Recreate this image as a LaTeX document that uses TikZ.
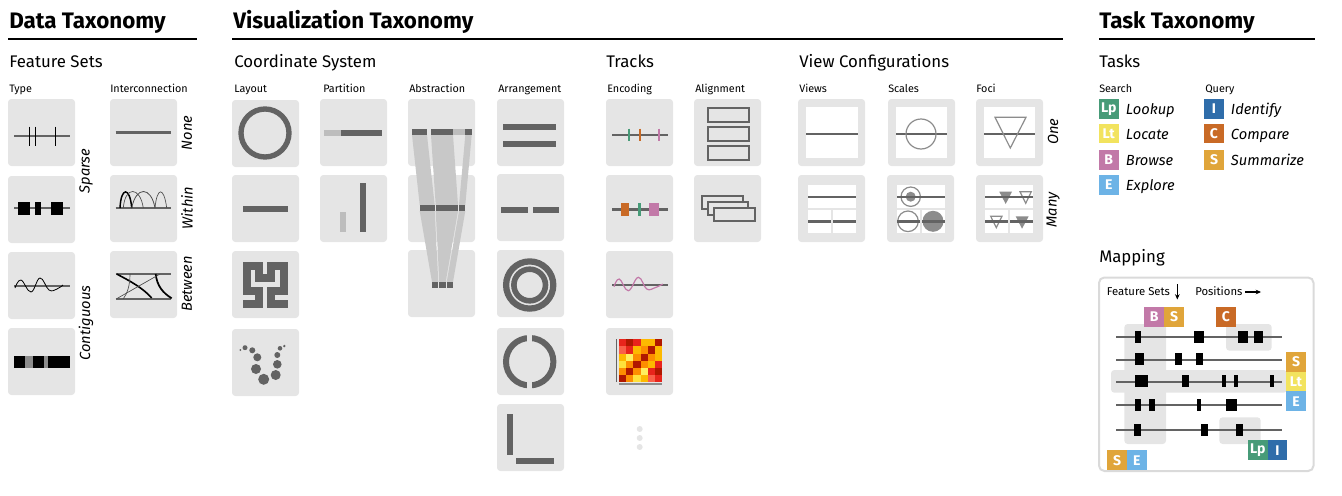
\documentclass[tikz,border=0pt]{standalone}
\usepackage{fontspec}
\setmainfont{Fira Sans}
\usetikzlibrary{arrows.meta}
\definecolor{tilegray}{HTML}{E5E5E5}
\definecolor{cdark}{HTML}{636363}
\definecolor{cmid}{HTML}{8C8C8C}
\definecolor{clite}{HTML}{BDBDBD}
\definecolor{cband}{HTML}{C8C8C8}
\definecolor{cLp}{HTML}{479B78}
\definecolor{cLt}{HTML}{F2E35E}
\definecolor{cB}{HTML}{C279A8}
\definecolor{cE}{HTML}{6DB3E6}
\definecolor{cI}{HTML}{2F6DAA}
\definecolor{cC}{HTML}{C96A26}
\definecolor{cS}{HTML}{E0A53A}
\definecolor{hR}{HTML}{E8241C}
\definecolor{hD}{HTML}{B01800}
\definecolor{hA}{HTML}{FDB900}
\definecolor{hO}{HTML}{FD8E00}
\definecolor{hY}{HTML}{FEE13C}
\definecolor{hL}{HTML}{FFEF60}
\definecolor{hS}{HTML}{F9604A}
\tikzset{
  tilebox/.style={fill=tilegray,rounded corners=2.5pt},
  trackline/.style={draw=cdark,line width=1.8pt},
  titletext/.style={anchor=base west,inner sep=0,font=\fontsize{16.8}{18}\selectfont\bfseries},
  rulebar/.style={draw=black,line width=1.5pt},
  sectiontext/.style={anchor=base west,inner sep=0,font=\fontsize{12.6}{14}\selectfont},
  collab/.style={anchor=base west,inner sep=0,font=\fontsize{8.1}{9}\selectfont},
  rotlab/.style={rotate=90,inner sep=0,font=\fontsize{11}{13}\selectfont\itshape},
  tasklab/.style={anchor=base west,inner sep=0,font=\fontsize{11}{13}\selectfont\itshape},
  tagtext/.style={inner sep=0,text=white,font=\fontsize{10.5}{11}\selectfont\bfseries},
  smalltext/.style={anchor=base west,inner sep=0,font=\fontsize{8.5}{9}\selectfont},
  outl/.style={draw=cmid,line width=.9pt},
  frameb/.style={draw=cdark,line width=1.5pt,fill=tilegray},
  mapline/.style={draw=cdark,line width=1.5pt},
}
\newcommand{\tileat}[2]{\path[tilebox] (#1,#2) rectangle ++(67,67);}
\newcommand{\barfill}[5]{\fill[#5] (#1,#2) rectangle (#3,#4);}
\newcommand{\tagbox}[7]{\fill[#6] (#2,#3) rectangle (#4,#5); \node[tagtext] (#1) at ({(#2+#4)/2},{(#3+#5)/2}) {#7};}
\newcommand{\markbar}[3]{\fill[black] (#1,#3) rectangle (#2,#3+12);}
\begin{document}
\begin{tikzpicture}[x=0.75pt,y=-0.75pt]
\useasboundingbox (0,0) rectangle (1342,496);
% ---- headers
\node[titletext] (h1) at (9,28) {Data Taxonomy};
\node[titletext] (h2) at (233,28) {Visualization Taxonomy};
\node[titletext] (h3) at (1099,28) {Task Taxonomy};
\draw[rulebar] (8,39) -- (197,39);
\draw[rulebar] (232,39) -- (1063,39);
\draw[rulebar] (1099,39) -- (1315,39);
\node[sectiontext] (s1) at (9,67) {Feature Sets};
\node[sectiontext] (s2) at (234,67) {Coordinate System};
\node[sectiontext] (s3) at (606,67) {Tracks};
\node[sectiontext] (s4) at (799,67) {View Configurations};
\node[sectiontext] (s5) at (1099,67) {Tasks};
\node[sectiontext] (s6) at (1099,262) {Mapping};
\foreach \n/\x/\t in {a/9/Type,b/110/Interconnection,c/234/Layout,d/323/Partition,e/409/Abstraction,f/498/Arrangement,g/607/Encoding,i/695/Alignment,j/799/Views,k/888/Scales,l/976/Foci,m/1099/Search,n/1205/Query}
  {\node[collab] (col\n) at (\x,92) {\t};}
% ---- tiles
\foreach \y in {99,176,252,328} {\tileat{8}{\y}}
\foreach \y in {99,175,251} {\tileat{110}{\y}}
\foreach \y in {100,175,251,329} {\tileat{232}{\y}}
\foreach \y in {99,175} {\tileat{320}{\y}}
\foreach \y in {99,175,250} {\tileat{408}{\y}}
\foreach \y in {99,174,250,328,404} {\tileat{497}{\y}}
\foreach \y in {99,175,251,328} {\tileat{606}{\y}}
\foreach \y in {99,175} {\tileat{694}{\y}}
\foreach \x in {798,888,976} {\tileat{\x}{99}}
\tileat{798}{175} \tileat{887}{175} \tileat{976}{175}
% ---- type
\draw[trackline] (14,135.7) -- (69.5,135.7);
\foreach \x in {29,35,55.5} {\draw[black,line width=.7pt] (\x,126.7) -- (\x,146);}
\draw[trackline] (14,208) -- (69.5,208);
\barfill{18}{202}{30}{215}{black} \barfill{35}{202}{41}{215}{black} \barfill{51}{202}{63}{215}{black}
\draw[trackline] (14,286) -- (69.5,286);
\draw[black,line width=.6pt] plot[smooth,tension=.7] coordinates {(15,288) (21,280) (31,292) (40,278) (49,290) (57,289) (63,285)};
\barfill{14}{356}{25}{368}{black} \barfill{25}{356}{33}{368}{cmid} \barfill{33}{356}{44}{368}{black} \barfill{44}{356}{48}{368}{cmid} \barfill{48}{356}{69.5}{368}{black}
\node[rotlab] (lsparse) at (86,171) {Sparse};
\node[rotlab] (lcontig) at (86,323) {Contiguous};
% ---- interconnection
\draw[trackline] (115.5,132.3) -- (171,132.3);
\draw[trackline] (115.5,208) -- (171,208);
\draw[black,line width=1.1pt] (120,208) .. controls (121,186.5) and (130,186.5) .. (131.7,208);
\draw[black!70,line width=.5pt] (123.3,208) .. controls (125,186) and (140,186) .. (143.3,208);
\draw[black!70,line width=.6pt] (131.7,208) .. controls (136,186) and (151,186) .. (155,208);
\draw[black!70,line width=.5pt] (155,208) .. controls (157,186.5) and (164,186.5) .. (166.7,208);
\draw[trackline] (115.5,273.7) -- (171,273.7);
\draw[trackline] (115.5,298.7) -- (171,298.7);
\draw[black,line width=1.2pt] (116.7,274) .. controls (130,281) and (143,288) .. (151.7,298);
\draw[black,line width=1.3pt] (155.7,274) .. controls (157,286) and (163,293) .. (171.7,298.3);
\draw[black!70,line width=.5pt] (116.7,298.7) -- (160,274);
\draw[black!70,line width=.5pt] (130,274) .. controls (130,286) and (127,294) .. (123.3,298.7);
\node[rotlab] (lnone) at (187,133) {None};
\node[rotlab] (lwithin) at (187,208) {Within};
\node[rotlab] (lbetween) at (187,284) {Between};
% ---- layout
\draw[cdark,line width=4pt] (265,133) circle (24);
\barfill{243.3}{205.7}{288}{211.7}{cdark}
\draw[cdark,line width=6pt] (243.3,303.7) -- (259.3,303.7) -- (259.3,291.3) -- (247.3,291.3) -- (247.3,266.3) -- (259.3,266.3) -- (259.3,278.3) -- (271.3,278.3) -- (271.3,266.3) -- (283.7,266.3) -- (283.7,291.3) -- (271.3,291.3) -- (271.3,303.7) -- (287.7,303.7);
\foreach \x/\y/\r in {240.3/350/1,245/347.7/2.5,252.3/350.3/3,257.3/357.3/4,256/369/5,263.7/379.3/5.5,275.7/375/5,277.3/364.3/4.3,277.3/355/3,280/348.3/2.3,284.3/346/1.3}
  {\fill[cdark] (\x,\y) circle (\r);}
% ---- partition
\barfill{324.3}{129.7}{341}{136}{clite} \barfill{341}{129.7}{382}{136}{cdark}
\barfill{340.3}{211.7}{346.3}{232.3}{clite} \barfill{360}{183}{366}{232.3}{cdark}
% ---- abstraction
\fill[cband] (412,135) -- (427,135) -- (434.7,205) -- (419.7,205) -- cycle;
\fill[cband] (431,135) -- (453,135) -- (458,205) -- (435.7,205) -- cycle;
\fill[cband] (465.3,135) -- (471.7,135) -- (465.3,205) -- (459,205) -- cycle;
\fill[cband] (419.7,211) -- (434.7,211) -- (438.3,282) -- (432,282) -- cycle;
\fill[cband] (435.7,211) -- (458,211) -- (445.7,282) -- (439.3,282) -- cycle;
\fill[cband] (459,211) -- (465.3,211) -- (453,282) -- (446.7,282) -- cycle;
\barfill{412}{129}{427}{135.3}{cdark} \barfill{431}{129}{453}{135.3}{cdark} \barfill{453}{129}{465.3}{135.3}{clite} \barfill{465.3}{129}{471.7}{135.3}{cdark}
\barfill{419.7}{205}{434.7}{211}{cdark} \barfill{435.7}{205}{458}{211}{cdark} \barfill{459}{205}{465.3}{211}{cdark}
\barfill{432}{282}{438.3}{288}{cdark} \barfill{439.3}{282}{445.7}{288}{cdark} \barfill{446.7}{282}{453}{288}{cdark}
% ---- arrangement
\barfill{503.3}{123.7}{556}{130}{cdark} \barfill{503.3}{141.3}{556}{147.3}{cdark}
\barfill{501}{206.7}{527.7}{212.7}{cdark} \barfill{532.7}{206.7}{559.3}{212.7}{cdark}
\draw[cdark,line width=4.7pt] (529.7,285) circle (23.6);
\draw[cdark,line width=4.2pt] (529.7,285) circle (15.8);
\draw[cdark,line width=4.5pt] (529.7,361.7) circle (23.7);
\barfill{527.3}{331}{532.3}{392}{tilegray}
\barfill{507}{413.7}{513}{455}{cdark} \barfill{516}{458}{553.7}{464}{cdark}
% ---- encoding
\draw[trackline] (612,135) -- (667.7,135);
\draw[cLp,line width=1.6pt] (629,128.7) -- (629,141);
\draw[cC,line width=1.6pt] (639.7,128.7) -- (639.7,141);
\draw[cB,line width=1.6pt] (659,128.7) -- (659,141);
\draw[trackline] (612,209.3) -- (667.7,209.3);
\barfill{621}{203}{629.3}{216}{cC} \barfill{637.5}{203}{640.8}{216}{cLp} \barfill{649}{203}{658.7}{216}{cB}
\draw[trackline] (612,285) -- (667.7,285);
\draw[cB,line width=.9pt] plot[smooth,tension=.7] coordinates {(614,286.7) (619.3,279) (628.3,290.7) (638.3,277.3) (646.7,289) (655,287.7) (662.7,284)};
\foreach \c [count=\i from 0] in {hR,hD,hR,hA,hA,hD,hS,hR,hA,hO,hD,hA,hA,hL,hO,hD,hO,hA,hY,hO,hD,hO,hA,hR,hO,hD,hO,hL,hR,hD,hD,hO,hY,hA,hS,hR}{
  \pgfmathtruncatemacro{\cx}{mod(\i,6)}
  \pgfmathtruncatemacro{\cy}{int(\i/6)}
  \fill[\c] ({619+\cx*7.17},{339.3+\cy*7.12}) rectangle ++(7.17,7.12);
}
\draw[cdark,line width=.8pt] (616.7,339.3) -- (616.7,382);
\draw[cmid,line width=1.2pt] (619,383.7) -- (662,383.7);
\foreach \y in {429,438,447} {\fill[tilegray] (639.7,\y) circle (3);}
% ---- alignment
\draw[frameb] (708.3,108.3) rectangle (749.3,121.7);
\draw[frameb] (708.3,127.3) rectangle (749.3,140.7);
\draw[frameb] (708.3,146.3) rectangle (749.3,160);
\draw[frameb] (701.7,196) rectangle (742.7,209);
\draw[frameb] (707.7,202) rectangle (748.3,215);
\draw[frameb] (714,208) rectangle (754.7,221.3);
% ---- view configurations, one
\barfill{806}{107}{858}{158}{white}
\draw[trackline] (806,134) -- (858,134);
\barfill{896}{107}{947.3}{158}{white}
\draw[trackline] (896,134) -- (947.3,134);
\draw[outl] (921,134) circle (15);
\barfill{984}{107}{1035.3}{158}{white}
\draw[trackline] (984,134) -- (1035.3,134);
\draw[outl] (995,117.3) -- (1026,117.3) -- (1010.3,148) -- cycle;
% ---- many
\barfill{808}{185}{856}{208.3}{white} \barfill{808}{210}{831}{232.7}{white} \barfill{833}{210}{856}{232.7}{white}
\draw[trackline] (808,196.7) -- (856,196.7);
\draw[trackline] (808,221.3) -- (831,221.3);
\draw[trackline] (833,221.3) -- (856,221.3);
\barfill{897}{185}{945}{208.3}{white} \barfill{897}{210}{920}{232.7}{white} \barfill{922}{210}{945}{232.7}{white}
\fill[cmid] (910.7,196.7) circle (5);
\draw[outl] (910.7,196.7) circle (9.7);
\draw[trackline] (897,196.7) -- (945,196.7);
\draw[outl] (908,221.3) circle (10.3);
\fill[cmid] (933,221.3) circle (10.5);
\draw[trackline] (897,221.3) -- (920,221.3);
\draw[trackline] (922,221.3) -- (945,221.3);
\barfill{985.3}{185}{1033.3}{208.3}{white} \barfill{985.3}{210}{1008.3}{232.7}{white} \barfill{1010.3}{210}{1033.3}{232.7}{white}
\fill[cmid] (999.3,191.7) -- (1012,191.7) -- (1005.7,204) -- cycle;
\draw[outl] (1020,191.7) -- (1031.3,191.7) -- (1025.7,203.3) -- cycle;
\draw[outl] (990.7,216.3) -- (1002,216.3) -- (996.3,227.7) -- cycle;
\fill[cmid] (1015.7,216.3) -- (1028.7,216.3) -- (1022,228.7) -- cycle;
\draw[trackline] (985.3,196.7) -- (1033.3,196.7);
\draw[trackline] (985.3,221.3) -- (1008.3,221.3);
\draw[trackline] (1010.3,221.3) -- (1033.3,221.3);
\node[rotlab] (lone) at (1053,131.7) {One};
\node[rotlab] (lmany) at (1053,210) {Many};
% ---- tasks
\tagbox{tLp}{1098.7}{99}{1118.7}{119}{cLp}{Lp}
\tagbox{tLt}{1098.7}{123.7}{1118.7}{143.3}{cLt}{Lt}
\tagbox{tB}{1098.7}{150}{1118.7}{170}{cB}{B}
\tagbox{tE}{1098.7}{175}{1118.7}{195}{cE}{E}
\tagbox{tI}{1204}{99}{1224}{119}{cI}{I}
\tagbox{tC}{1204}{123.7}{1224}{143.3}{cC}{C}
\tagbox{tS}{1204}{150}{1224}{170}{cS}{S}
\foreach \x/\y/\t/\n in {1125.7/114/Lookup/a,1125.7/139/Locate/b,1125.7/165/Browse/c,1125.7/190/Explore/d,1230.7/114/Identify/e,1230.7/139/Compare/f,1230.7/165/Summarize/g}
  {\node[tasklab] (task\n) at (\x,\y) {\t};}
% ---- mapping
\draw[draw=tilegray!95!black,line width=1.5pt,rounded corners=4pt] (1099,277.5) rectangle (1313.5,471);
\node[smalltext] (mfs) at (1106.7,295.5) {Feature Sets};
\node[smalltext] (mpos) at (1195,295) {Positions};
\coordinate (fa) at (1177.3,284);
\coordinate (fb) at (1177.3,299.5);
\coordinate (pa) at (1245,292);
\coordinate (pb) at (1261,292);
\draw[black,line width=.8pt,-{Stealth[length=4pt,width=3.5pt]}] (fa) -- (fb);
\draw[black,line width=.8pt,-{Stealth[length=4pt,width=3.5pt]}] (pa) -- (pb);
\path[tilebox] (1124.3,324) rectangle (1166,444);
\path[tilebox] (1111,370) rectangle (1287,392.7);
\path[tilebox] (1226,324) rectangle (1271.7,350.7);
\path[tilebox] (1219.3,417.3) rectangle (1260.7,444);
\foreach \y in {337.3,359.7,381.7,405.3,430} {\draw[mapline] (1116,\y) -- (1282,\y);}
\markbar{1135}{1141}{331.3} \markbar{1194.3}{1204.3}{331.3} \markbar{1238.3}{1248.3}{331.3} \markbar{1253.7}{1263.3}{331.3}
\markbar{1135}{1144}{353.3} \markbar{1175.3}{1182.3}{353.3} \markbar{1196.3}{1203.3}{353.3}
\markbar{1135}{1148.3}{375.3} \markbar{1181.7}{1188.7}{375.3} \markbar{1222}{1226}{375.3} \markbar{1234}{1238}{375.3} \markbar{1270.3}{1274.3}{375.3}
\markbar{1135}{1141}{399.3} \markbar{1149.3}{1155.3}{399.3} \markbar{1197}{1200.7}{399.3} \markbar{1226}{1237.3}{399.3}
\markbar{1134}{1141}{424} \markbar{1201}{1208}{424} \markbar{1236}{1243}{424}
\tagbox{mB}{1144.3}{306.7}{1164}{326.7}{cB}{B}
\tagbox{mS}{1164}{306.7}{1184}{326.7}{cS}{S}
\tagbox{mC}{1216}{306.7}{1235.7}{326.7}{cC}{C}
\tagbox{mS2}{1286}{352}{1306}{371.7}{cS}{S}
\tagbox{mLt}{1286}{371.7}{1306}{391.3}{cLt}{Lt}
\tagbox{mE}{1286}{391.3}{1306}{411}{cE}{E}
\tagbox{mLp}{1247.7}{440.3}{1267.7}{460}{cLp}{Lp}
\tagbox{mI}{1267.7}{440.3}{1287}{460}{cI}{I}
\tagbox{mS3}{1107.3}{450.3}{1127}{470}{cS}{S}
\tagbox{mE2}{1127}{450.3}{1146.7}{470}{cE}{E}
\end{tikzpicture}
\end{document}
